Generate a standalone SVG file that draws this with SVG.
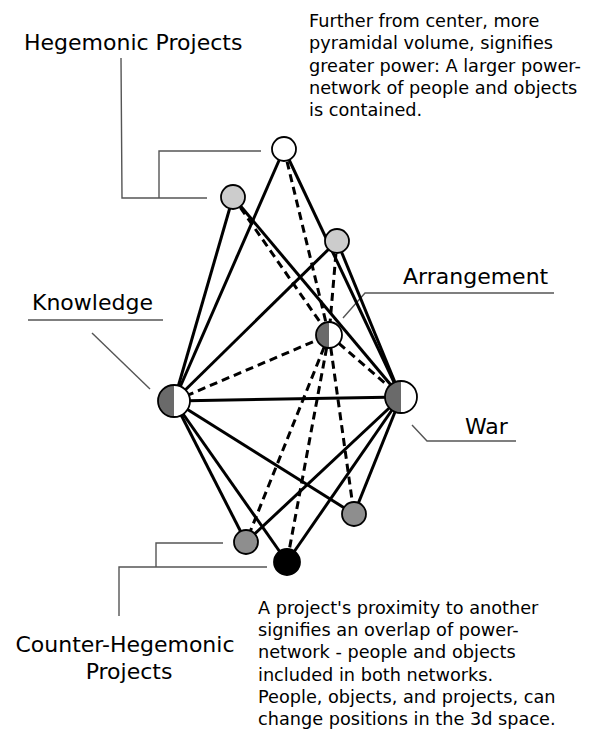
<svg xmlns="http://www.w3.org/2000/svg" width="596" height="729" viewBox="0 0 596 729">
  <defs>
    <style>
      .label { font-family: "DejaVu Sans", Verdana, sans-serif; font-size: 22px; fill: #000; }
      .note { font-family: "DejaVu Sans", Verdana, sans-serif; font-size: 17.7px; fill: #000; }
      .leader { fill: none; stroke: #555; stroke-width: 1.4; }
      .edge { stroke: #000; stroke-width: 3; fill: none; stroke-linecap: butt; }
      .dash { stroke: #000; stroke-width: 3; fill: none; stroke-dasharray: 8 5; }
      .node { stroke: #000; stroke-width: 1.8; }
      .ring { fill: none; stroke: #000; stroke-width: 1.8; }
      .light { fill: #cccccc; }
      .mid { fill: #8e8e8e; }
      .dark { fill: #6a6a6a; }
    </style>
  </defs>
  <rect width="596" height="729" fill="#fff"/>

  <!-- leader lines for the labels -->
  <g id="leaders">
    <polyline class="leader" points="121,58 122,198 207,198"/>
    <polyline class="leader" points="159,198 159,151 261,151"/>
    <line class="leader" x1="28" y1="320" x2="163" y2="320"/>
    <line class="leader" x1="92" y1="333" x2="150" y2="389"/>
    <polyline class="leader" points="343,318 365,293 554,293"/>
    <polyline class="leader" points="412,425 427,441 516,441"/>
    <polyline class="leader" points="119,616 119,567 267,567"/>
    <polyline class="leader" points="156,567 156,543 223,543"/>
  </g>

  <!-- connectors -->
  <g id="connectors">
    <!-- solid links -->
    <line class="edge" x1="284" y1="149" x2="174" y2="401"/>
    <line class="edge" x1="284" y1="149" x2="401" y2="397"/>
    <line class="edge" x1="233" y1="197" x2="174" y2="401"/>
    <line class="edge" x1="233" y1="197" x2="401" y2="397"/>
    <line class="edge" x1="337" y1="241" x2="174" y2="401"/>
    <line class="edge" x1="337" y1="241" x2="401" y2="397"/>
    <line class="edge" x1="174" y1="401" x2="401" y2="397"/>
    <line class="edge" x1="174" y1="401" x2="246" y2="542"/>
    <line class="edge" x1="174" y1="401" x2="287" y2="562"/>
    <line class="edge" x1="174" y1="401" x2="354" y2="514"/>
    <line class="edge" x1="401" y1="397" x2="246" y2="542"/>
    <line class="edge" x1="401" y1="397" x2="287" y2="562"/>
    <line class="edge" x1="401" y1="397" x2="354" y2="514"/>
    <!-- dashed links through the arrangement -->
    <line class="dash" x1="284" y1="149" x2="329" y2="335"/>
    <line class="dash" x1="233" y1="197" x2="329" y2="335"/>
    <line class="dash" x1="337" y1="241" x2="329" y2="335"/>
    <line class="dash" x1="174" y1="401" x2="329" y2="335"/>
    <line class="dash" x1="329" y1="335" x2="401" y2="397"/>
    <line class="dash" x1="329" y1="335" x2="246" y2="542"/>
    <line class="dash" x1="329" y1="335" x2="287" y2="562"/>
    <line class="dash" x1="329" y1="335" x2="354" y2="514"/>
  </g>

  <!-- nodes -->
  <g id="hegemonic-top">
    <circle class="node" cx="284" cy="149" r="12" fill="#fff"/>
  </g>
  <g id="hegemonic-left">
    <circle class="node light" cx="233" cy="197" r="12"/>
  </g>
  <g id="hegemonic-right">
    <circle class="node light" cx="337" cy="241" r="12"/>
  </g>
  <g id="arrangement">
    <circle cx="329" cy="335" r="13" fill="#fff"/>
    <path class="dark" d="M329,322 A13,13 0 0 0 329,348 Z"/>
    <circle class="ring" cx="329" cy="335" r="13"/>
  </g>
  <g id="knowledge">
    <circle cx="174" cy="401" r="16" fill="#fff"/>
    <path class="dark" d="M174,385 A16,16 0 0 0 174,417 Z"/>
    <circle class="ring" cx="174" cy="401" r="16"/>
  </g>
  <g id="war">
    <circle cx="401" cy="397" r="16" fill="#fff"/>
    <path class="dark" d="M401,381 A16,16 0 0 0 401,413 Z"/>
    <circle class="ring" cx="401" cy="397" r="16"/>
  </g>
  <g id="counter-left">
    <circle class="node mid" cx="246" cy="542" r="12"/>
  </g>
  <g id="counter-right">
    <circle class="node mid" cx="354" cy="514" r="12"/>
  </g>
  <g id="counter-bottom">
    <circle class="node" cx="287" cy="562" r="13" fill="#000"/>
  </g>

  <!-- labels -->
  <g id="labels">
    <text class="label" x="24" y="50">Hegemonic Projects</text>
    <text class="label" x="32" y="310">Knowledge</text>
    <text class="label" x="403" y="284">Arrangement</text>
    <text class="label" x="465" y="434">War</text>
    <text class="label" x="125" y="652" text-anchor="middle">Counter-Hegemonic</text>
    <text class="label" x="129" y="679" text-anchor="middle">Projects</text>
  </g>

  <!-- notes -->
  <g id="notes">
    <text class="note" x="309" y="27">
      <tspan x="309" y="27">Further from center, more</tspan>
      <tspan x="309" y="49.3">pyramidal volume, signifies</tspan>
      <tspan x="309" y="71.6">greater power: A larger power-</tspan>
      <tspan x="309" y="93.9">network of people and objects</tspan>
      <tspan x="309" y="116.2">is contained.</tspan>
    </text>
    <text class="note" x="258" y="614">
      <tspan x="258" y="614">A project's proximity to another</tspan>
      <tspan x="258" y="636.2">signifies an overlap of power-</tspan>
      <tspan x="258" y="658.4">network - people and objects</tspan>
      <tspan x="258" y="680.6">included in both networks.</tspan>
      <tspan x="258" y="702.8">People, objects, and projects, can</tspan>
      <tspan x="258" y="725">change positions in the 3d space.</tspan>
    </text>
  </g>
</svg>
